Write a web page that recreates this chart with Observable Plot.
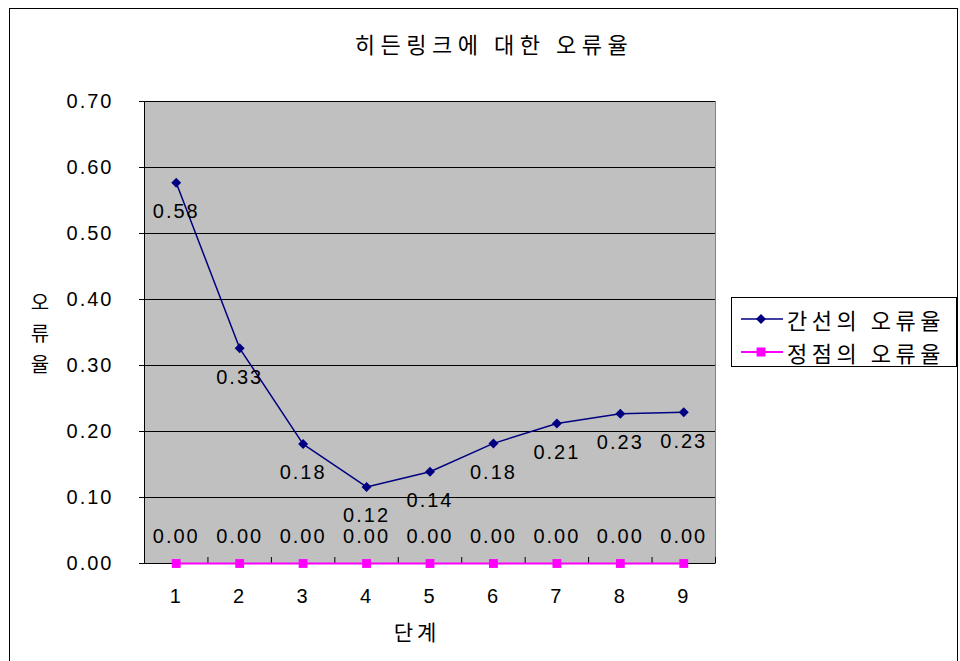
<!DOCTYPE html>
<html><head><meta charset="utf-8">
<script src="https://cdn.jsdelivr.net/npm/d3@7"></script>
<script src="https://cdn.jsdelivr.net/npm/@observablehq/plot@0.6"></script>
<style>
  body { margin:0; background:#fff; }
  #wrap { position:relative; width:960px; height:661px; overflow:hidden; font-family:"Noto Sans CJK KR", sans-serif; color:#000; }
  #border { position:absolute; left:9px; top:8px; width:947px; height:700px; border:1px solid #000; }
  #title { position:absolute; left:0; width:988px; top:28px; text-align:center; font-size:22px; letter-spacing:5.5px; line-height:30px; }
  #chart { position:absolute; left:0; top:0; }
  #chart svg text { letter-spacing:2px; }
  #ylabel { position:absolute; left:29px; top:286px; width:22px; font-size:20px; line-height:31px; text-align:center; }
  #xlabel { position:absolute; left:0; width:834px; top:616px; text-align:center; font-size:21px; letter-spacing:4px; line-height:30px; }
  #legend { position:absolute; left:731px; top:297px; width:224px; height:68px; border:1px solid #000; background:#fff; }
  .item { position:absolute; left:8px; height:30px; display:flex; align-items:center; font-size:22px; letter-spacing:4.5px; white-space:nowrap; }
  .item svg { margin-right:3px; }
</style>
</head><body>
<div id="wrap">
  <div id="border"></div>
  <div id="title"></div>
  <div id="chart"></div>
  <div id="ylabel"></div>
  <div id="xlabel"></div>
  <div id="legend"></div>
</div>
<script>
const titleText = "히든링크에 대한 오류율";
const yLabel = "오류율";
const xLabel = "단계";
const steps = [1, 2, 3, 4, 5, 6, 7, 8, 9];
const edgeError = [0.577, 0.326, 0.181, 0.116, 0.139, 0.182, 0.212, 0.227, 0.229];
const vertexError = [0, 0, 0, 0, 0, 0, 0, 0, 0];
const seriesNames = ["간선의 오류율", "정점의 오류율"];
const seriesColors = ["#000080", "#ff00ff"];
const yTicks = [0, 0.1, 0.2, 0.3, 0.4, 0.5, 0.6, 0.7];

const edge = steps.map((s, i) => ({step: s, value: edgeError[i]}));
const vertex = steps.map((s, i) => ({step: s, value: vertexError[i]}));
const bounds = [0.5, ...steps.map(s => s + 0.5)];

document.getElementById("title").textContent = titleText;
document.getElementById("xlabel").textContent = xLabel;
document.getElementById("ylabel").innerHTML = [...yLabel].map(c => `<div>${c}</div>`).join("");

const chart = Plot.plot({
  width: 960, height: 661,
  marginTop: 101, marginBottom: 98, marginLeft: 144, marginRight: 245,
  style: {fontFamily: "'Liberation Sans', sans-serif", fontSize: "20px", color: "#000", background: "transparent"},
  x: {type: "linear", domain: [0.5, 9.5]},
  y: {type: "linear", domain: [0, 0.7]},
  marks: [
    Plot.frame({fill: "#c0c0c0", stroke: "#808080"}),
    Plot.ruleY(yTicks.slice(1), {stroke: "#000", strokeWidth: 1}),
    Plot.ruleX([0.5], {stroke: "#000"}),
    Plot.ruleY([0], {stroke: "#000"}),
    Plot.ruleX(bounds, {y1: 0, y2: 0, insetTop: -6, stroke: "#000"}),
    Plot.axisY({ticks: yTicks, tickFormat: d => d.toFixed(2), tickSize: 5, tickPadding: 26, label: null, fontSize: 20, stroke: "#000"}),
    Plot.axisX({ticks: steps, tickFormat: d => String(d), tickSize: 0, tickPadding: 25, label: null, fontSize: 20}),
    Plot.line(edge, {x: "step", y: "value", stroke: seriesColors[0], strokeWidth: 1.5}),
    Plot.dot(edge, {x: "step", y: "value", symbol: "diamond2", r: 4.5, fill: seriesColors[0], stroke: null}),
    Plot.line(vertex, {x: "step", y: "value", stroke: seriesColors[1], strokeWidth: 2}),
    Plot.dot(vertex, {x: "step", y: "value", symbol: "square", r: 5, fill: seriesColors[1], stroke: null}),
    Plot.text(edge, {x: "step", y: "value", text: d => d.value.toFixed(2), dy: 29, fontSize: 20, fill: "#000"}),
    Plot.text(vertex, {x: "step", y: "value", text: d => d.value.toFixed(2), dy: -27, fontSize: 20, fill: "#000"})
  ]
});
document.getElementById("chart").appendChild(chart);

const legend = document.getElementById("legend");
const symbols = [
  `<path d="M21,9 L26,14 L21,19 L16,14 Z" fill="${seriesColors[0]}"/>`,
  `<rect x="16.5" y="9.5" width="9" height="9" fill="${seriesColors[1]}"/>`
];
seriesNames.forEach((name, i) => {
  const div = document.createElement("div");
  div.className = "item";
  div.style.top = (6 + i * 33) + "px";
  div.innerHTML = `<svg width="44" height="28"><line x1="1" y1="14" x2="43" y2="14" stroke="${seriesColors[i]}" stroke-width="${i ? 2 : 1.5}"/>${symbols[i]}</svg><span>${name}</span>`;
  legend.appendChild(div);
});
</script>
</body></html>
